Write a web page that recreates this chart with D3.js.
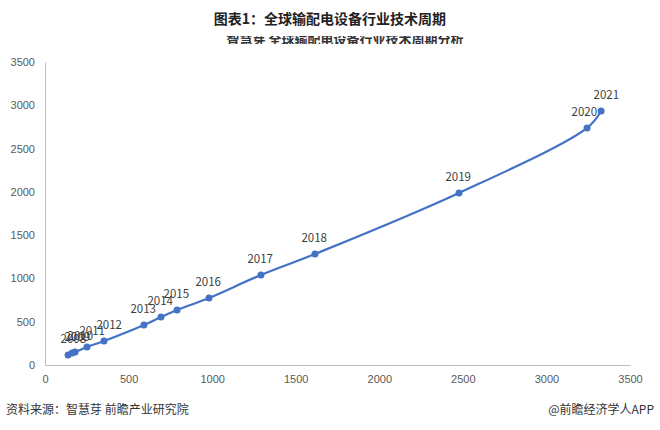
<!DOCTYPE html>
<html><head><meta charset="utf-8">
<script src="https://cdn.jsdelivr.net/npm/d3@7"></script>
<style>body{margin:0;background:#fff;font-family:"Noto Sans CJK SC","Noto Sans",sans-serif}</style>
</head><body><svg id="c" width="660" height="430"></svg>
<script>
// patent filings (x) vs applicants (y) by year
const years = [2008,2009,2010,2011,2012,2013,2014,2015,2016,2017,2018,2019,2020,2021];
const filings = [138,162,180,251,353,592,694,790,981,1292,1615,2477,3243,3327];
const applicants = [116,139,150,208,277,462,554,635,774,1040,1282,1987,2738,2934];
const ticks = [0,500,1000,1500,2000,2500,3000,3500];

const svg = d3.select('#c');
const x = d3.scaleLinear().domain([0,3500]).range([45,630]);
const y = d3.scaleLinear().domain([0,3500]).range([365,62]);

svg.append('text').attr('x',330).attr('y',24).attr('text-anchor','middle')
  .attr('font-size',14).attr('font-weight','bold').attr('fill','#222')
  .text('图表1：全球输配电设备行业技术周期');
// half-hidden subtitle
svg.append('clipPath').attr('id','cut').append('rect').attr('x',0).attr('y',36).attr('width',660).attr('height',8);
svg.append('text').attr('clip-path','url(#cut)').attr('x',345).attr('y',44).attr('text-anchor','middle')
  .attr('font-size',13).attr('font-weight','bold').attr('fill','#333')
  .text('智慧芽 全球输配电设备行业技术周期分析');

svg.append('g').attr('transform','translate(0,365)')
  .call(d3.axisBottom(x).tickValues(ticks).tickFormat(d3.format('d')).tickSize(0).tickPadding(10))
  .call(g=>{g.select('.domain').attr('stroke','#bfbfbf');g.selectAll('text').attr('font-size',11).attr('fill','#595959');});
svg.append('g').attr('transform','translate(45,0)')
  .call(d3.axisLeft(y).tickValues(ticks).tickFormat(d3.format('d')).tickSize(0).tickPadding(10))
  .call(g=>{g.select('.domain').attr('stroke','#bfbfbf');g.selectAll('text').attr('font-size',11).attr('fill','#595959');});

const pts = years.map((yr,i)=>({yr, fx: filings[i], ay: applicants[i]}));
svg.append('path').datum(pts).attr('fill','none').attr('stroke','#4472c4').attr('stroke-width',2.2)
  .attr('d', d3.line().x(d=>x(d.fx)).y(d=>y(d.ay)).curve(d3.curveCatmullRom));
svg.selectAll('circle.p').data(pts).join('circle').attr('cx',d=>x(d.fx)).attr('cy',d=>y(d.ay))
  .attr('r',3.5).attr('fill','#4472c4');
svg.selectAll('text.l').data(pts).join('text').attr('x',d=>x(d.fx)+(d.yr>=2020?4:6)).attr('y',d=>y(d.ay)-12)
  .attr('text-anchor','end').attr('font-size',11.5).attr('fill','#404040').text(d=>d.yr)
  .attr('dx',d=>d.yr===2021?14:(d.yr>=2013?6:12));
</script>
<script>
d3.select('#c').append('text').attr('x',6).attr('y',414).attr('font-size',12).attr('fill','#333')
  .text('资料来源：智慧芽 前瞻产业研究院');
d3.select('#c').append('text').attr('x',654).attr('y',414).attr('text-anchor','end').attr('font-size',12).attr('fill','#333')
  .text('@前瞻经济学人APP');
</script></body></html>
